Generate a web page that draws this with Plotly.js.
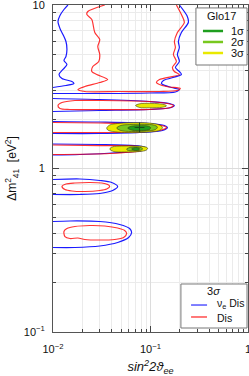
<!DOCTYPE html>
<html><head><meta charset="utf-8">
<script src="https://cdn.plot.ly/plotly-3.0.1.min.js"></script>
<style>html,body{margin:0;padding:0;background:#fff;}</style>
</head><body><div id="chart" style="width:249px;height:376px;"></div>
<script>
// ---- axis ticks ----
const xTickVals = [0.01, 0.1, 1];
const xTickText = ['10<sup>−2</sup>', '10<sup>−1</sup>', '1'];
const yTickVals = [0.1, 1, 10];
const yTickText = ['10<sup>−1</sup>', '1', '10'];
const xMinorVals = [0.02,0.03,0.04,0.05,0.06,0.07,0.08,0.09,0.2,0.3,0.4,0.5,0.6,0.7,0.8,0.9];
const yMinorVals = [0.2,0.3,0.4,0.5,0.6,0.7,0.8,0.9,2,3,4,5,6,7,8,9];

// ---- nu_e Dis (blue) 3 sigma contour lines ----
const blueLeftX = [0.01423,0.01295,0.01179,0.01125,0.01179,0.01265,0.01358,0.0139,0.01358,0.01295,0.0139,0.01265,0.01152,0.01236,0.01563,0.01639,0.01358,0.01];
const blueLeftY = [10,9.386,8.628,7.927,7.181,6.598,5.98,5.345,4.843,4.577,4.326,4.033,3.758,3.552,3.405,3.311,3.218,3.129];
const blueRightX = [0.1977,0.2386,0.2443,0.2073,0.1931,0.1977,0.1887,0.1977,0.18,0.1977,0.2073,0.1358,0.1295,0.1639,0.1977,0.18,0.09771,0.03017,0.01];
const blueRightY = [10,8.507,7.816,6.787,5.98,5.498,4.982,4.513,4.147,3.92,3.758,3.453,3.311,3.129,3.042,2.936,2.895,2.875,2.875];
const blueIsl1X = [0.01,0.03017,0.09771,0.1563,0.1758,0.1639,0.09771,0.03017,0.01];
const blueIsl1Y = [2.68,2.643,2.569,2.498,2.429,2.361,2.296,2.264,2.232];
const blueIsl2X = [0.01,0.03017,0.09771,0.139,0.1491,0.1326,0.07724,0.03017,0.01];
const blueIsl2Y = [1.939,1.925,1.885,1.832,1.782,1.708,1.66,1.637,1.637];
const blueIsl3X = [0.01,0.03017,0.06868,0.08688,0.09106,0.08289,0.04828,0.01887,0.01];
const blueIsl3Y = [1.412,1.402,1.382,1.353,1.325,1.288,1.253,1.218,1.209];
const blueIsl4X = [0.01,0.01887,0.03017,0.04,0.04606,0.04095,0.03017,0.01887,0.01];
const blueIsl4Y = [0.8563,0.8625,0.8446,0.821,0.7757,0.7337,0.7033,0.6935,0.6935];
const blueIsl5X = [0.01,0.01491,0.03017,0.04828,0.06107,0.064,0.05965,0.04606,0.03017,0.01678,0.01];
const blueIsl5Y = [0.4741,0.4775,0.4741,0.4545,0.4295,0.4059,0.3784,0.3525,0.3357,0.3287,0.3287];

// ---- Dis (red) 3 sigma contour lines ----
const redTopX = [0.03394,0.02276,0.02223,0.025,0.02683,0.03017,0.02879,0.03017,0.02947,0.0256,0.025,0.02812,0.03641,0.03017,0.02121,0.018,0.02121,0.04828,0.1236,0.1887,0.2024,0.1457,0.1152,0.1236,0.1977,0.1758,0.1678,0.1843,0.1718,0.18,0.1758,0.1887,0.2223,0.2121,0.1843];
const redTopY = [10,9.125,8.75,8.154,6.787,6.151,5.576,4.982,4.513,4.206,3.92,3.758,3.502,3.357,3.173,3.042,2.957,2.957,2.957,2.999,3.085,3.173,3.357,3.502,3.758,3.92,4.147,4.513,4.982,5.498,5.98,6.787,7.816,8.507,10];
const redIsl1X = [0.01125,0.01236,0.01678,0.03017,0.09771,0.1491,0.1718,0.1563,0.09771,0.03017,0.01491,0.01179,0.01125];
const redIsl1Y = [2.429,2.533,2.606,2.606,2.569,2.498,2.429,2.351,2.296,2.296,2.296,2.328,2.429];
const redIsl2X = [0.01,0.03017,0.09771,0.1358,0.1457,0.1295,0.07724,0.03017,0.01];
const redIsl2Y = [1.912,1.898,1.863,1.819,1.782,1.72,1.672,1.66,1.66];
const redIsl3X = [0.01,0.03017,0.06868,0.08289,0.08688,0.07724,0.03816,0.01];
const redIsl3Y = [1.392,1.382,1.373,1.344,1.316,1.279,1.235,1.218];
const redIsl4X = [0.01236,0.01358,0.01678,0.02386,0.03162,0.03641,0.03816,0.03557,0.03017,0.02121,0.01563,0.01326,0.01236];
const redIsl4Y = [0.7757,0.8037,0.8152,0.821,0.8152,0.7981,0.7757,0.7493,0.7337,0.7234,0.7285,0.744,0.7757];
const redIsl5X = [0.01295,0.0139,0.01678,0.02386,0.03394,0.04606,0.0543,0.05691,0.05304,0.04293,0.03017,0.02121,0.018,0.01491,0.01326,0.01295];
const redIsl5Y = [0.4117,0.4295,0.4417,0.448,0.4449,0.4325,0.4175,0.4003,0.3784,0.3679,0.3653,0.3679,0.3757,0.3731,0.3837,0.4117];

// ---- Glo17 allowed regions ----
const glo3s1X = [0.07031,0.07724,0.09771,0.1236,0.1423,0.1457,0.1326,0.09771,0.07724,0.07031];
const glo3s1Y = [2.429,2.487,2.505,2.487,2.446,2.412,2.368,2.351,2.361,2.429];
const glo3s2X = [0.03557,0.03816,0.04606,0.06107,0.08688,0.1099,0.1265,0.1326,0.1265,0.1024,0.07724,0.0543,0.04095,0.03641,0.03557];
const glo3s2Y = [1.769,1.845,1.885,1.904,1.904,1.879,1.832,1.782,1.72,1.677,1.66,1.66,1.684,1.72,1.769];
const glo3s3X = [0.03816,0.04095,0.0506,0.06868,0.08486,0.09322,0.09106,0.07724,0.0543,0.04193,0.03816];
const glo3s3Y = [1.316,1.357,1.373,1.373,1.363,1.335,1.297,1.27,1.262,1.27,1.316];
const glo2s1X = [0.04499,0.04943,0.06107,0.08688,0.1073,0.1179,0.1125,0.09106,0.064,0.04943,0.04499];
const glo2s1Y = [1.769,1.832,1.858,1.863,1.845,1.794,1.732,1.696,1.684,1.708,1.769];
const glo2s2X = [0.05691,0.06252,0.0737,0.08096,0.08289,0.07908,0.06708,0.05826,0.05691];
const glo2s2Y = [1.316,1.348,1.353,1.339,1.316,1.292,1.283,1.292,1.316];
const glo1s1X = [0.05826,0.064,0.07724,0.09322,0.1,0.09771,0.08096,0.06553,0.05826];
const glo1s1Y = [1.769,1.814,1.827,1.819,1.782,1.732,1.708,1.713,1.769];
const glo1s2X = [0.064,0.06708,0.0737,0.07724,0.07545,0.06868,0.064];
const glo1s2Y = [1.316,1.337,1.339,1.32,1.297,1.292,1.316];
const bestFitX = [0.0772];
const bestFitY = [1.782];

const BLUE = '#1a1aff', RED = 'rgba(255,0,0,0.8)';
const C1 = '#1f9e1f', C2 = '#78c81e', C3 = '#e9e900';

function line(x, y, color) {
  return {type:'scatter', mode:'lines', x:x, y:y, line:{color:color, width:1.2, shape:'spline', smoothing:0.8}, hoverinfo:'skip'};
}
function area(x, y, fill) {
  return {type:'scatter', mode:'lines', x:x, y:y, fill:'toself', fillcolor:fill, line:{color:'#3a3a10', width:0.6, shape:'spline', smoothing:1}, hoverinfo:'skip'};
}

const traces = [
  line(blueLeftX, blueLeftY, BLUE),
  line(blueRightX, blueRightY, BLUE),
  line(blueIsl1X, blueIsl1Y, BLUE),
  line(blueIsl2X, blueIsl2Y, BLUE),
  line(blueIsl3X, blueIsl3Y, BLUE),
  line(blueIsl4X, blueIsl4Y, BLUE),
  line(blueIsl5X, blueIsl5Y, BLUE),
  line(redTopX, redTopY, RED),
  line(redIsl1X, redIsl1Y, RED),
  line(redIsl2X, redIsl2Y, RED),
  line(redIsl3X, redIsl3Y, RED),
  line(redIsl4X, redIsl4Y, RED),
  line(redIsl5X, redIsl5Y, RED),
  area(glo3s1X, glo3s1Y, C3),
  area(glo3s2X, glo3s2Y, C3),
  area(glo3s3X, glo3s3Y, C3),
  area(glo2s1X, glo2s1Y, C2),
  area(glo2s2X, glo2s2Y, C2),
  area(glo1s1X, glo1s1Y, C1),
  area(glo1s2X, glo1s2Y, C1),
  {type:'scatter', mode:'markers', x:bestFitX, y:bestFitY, marker:{symbol:'cross-thin', size:7, line:{color:'#1a4a1a', width:1}}, hoverinfo:'skip'}
];

const FONT = 'Liberation Sans, Arial, Helvetica, sans-serif';
const shapes = [
  // Glo17 legend
  {type:'rect', xref:'paper', yref:'paper', x0:0.733, x1:0.995, y0:0.8165, y1:0.991, fillcolor:'#fff', line:{color:'#777', width:1}},
  {type:'line', xref:'paper', yref:'paper', x0:0.769, x1:0.872, y0:0.9205, y1:0.9205, line:{color:C1, width:2.5}},
  {type:'line', xref:'paper', yref:'paper', x0:0.769, x1:0.872, y0:0.8869, y1:0.8869, line:{color:C2, width:2.5}},
  {type:'line', xref:'paper', yref:'paper', x0:0.769, x1:0.872, y0:0.8532, y1:0.8532, line:{color:C3, width:2.5}},
  // 3 sigma legend
  {type:'rect', xref:'paper', yref:'paper', x0:0.656, x1:0.995, y0:0.0122, y1:0.1468, fillcolor:'#fff', line:{color:'#777', width:1}},
  {type:'line', xref:'paper', yref:'paper', x0:0.708, x1:0.79, y0:0.0825, y1:0.0825, line:{color:'#5555ff', width:1.5}},
  {type:'line', xref:'paper', yref:'paper', x0:0.708, x1:0.79, y0:0.0459, y1:0.0459, line:{color:'#ff2020', width:1.2}}
];
const ann = (x, y, text, xanchor, size) => ({xref:'paper', yref:'paper', x:x, y:y, text:text, showarrow:false, xanchor:xanchor||'left', yanchor:'middle', font:{size:size||11, family:FONT, color:'#111'}});
const annotations = [
  ann(0.862, 0.966, 'Glo17', 'center'),
  ann(0.905, 0.9205, '1σ'),
  ann(0.905, 0.8869, '2σ'),
  ann(0.905, 0.8532, '3σ'),
  ann(0.821, 0.1254, '3<i>σ</i>', 'center'),
  ann(0.83, 0.0845, 'ν<sub>e</sub> Dis', 'left', 10.5),
  ann(0.83, 0.0429, 'Dis', 'left', 10.5)
];

const layout = {
  width:249, height:376,
  margin:{l:53, r:1, t:5, b:44},
  paper_bgcolor:'#fff', plot_bgcolor:'#fff',
  showlegend:false,
  font:{family:FONT, size:11, color:'#111'},
  xaxis:{type:'log', range:[-2,0], tickmode:'array', tickvals:xTickVals, ticktext:xTickText,
    ticks:'inside', ticklen:6, tickcolor:'#444', showgrid:true, gridcolor:'#dcdcdc', gridwidth:1,
    minor:{tickmode:'array', tickvals:xMinorVals, ticks:'inside', ticklen:3, tickcolor:'#444', showgrid:true, gridcolor:'#ebebeb'},
    showline:true, linecolor:'#555', linewidth:1, mirror:'allticks', zeroline:false, automargin:false,
    ticklabelstandoff:7, ticklabeloverflow:'allow',
    title:{text:'<i>sin<sup>2</sup>2ϑ<sub>ee</sub></i>', font:{size:13, family:FONT}, standoff:10}},
  yaxis:{type:'log', range:[-1,1], tickmode:'array', tickvals:yTickVals, ticktext:yTickText,
    ticks:'inside', ticklen:6, tickcolor:'#444', showgrid:true, gridcolor:'#dcdcdc', gridwidth:1,
    minor:{tickmode:'array', tickvals:yMinorVals, ticks:'inside', ticklen:3, tickcolor:'#444', showgrid:true, gridcolor:'#ebebeb'},
    showline:true, linecolor:'#555', linewidth:1, mirror:'allticks', zeroline:false, automargin:false,
    ticklabelstandoff:5, ticklabeloverflow:'allow',
    title:{text:'Δm<sup>2</sup><sub>41</sub>  [eV<sup>2</sup>]', font:{size:12, family:FONT}, standoff:4}},
  shapes:shapes,
  annotations:annotations
};

Plotly.newPlot('chart', traces, layout, {staticPlot:true, displayModeBar:false});
</script>
</body></html>
